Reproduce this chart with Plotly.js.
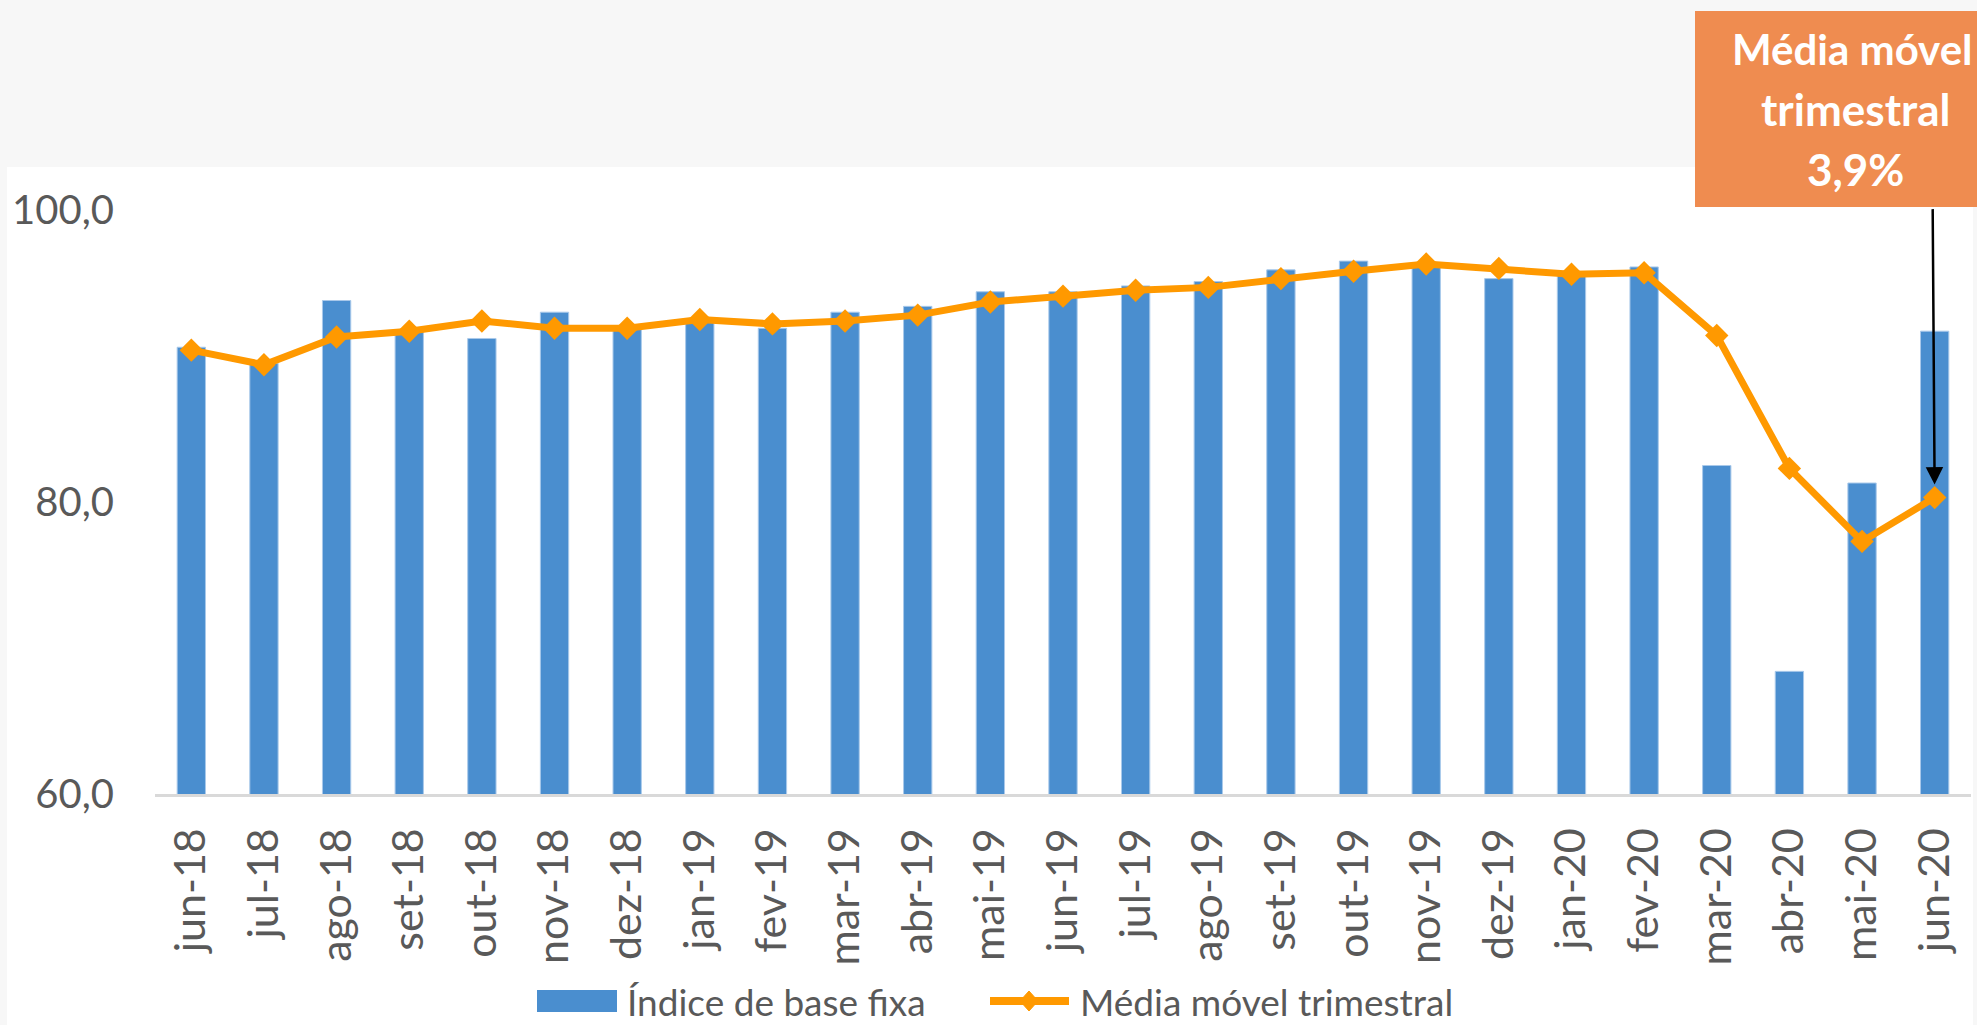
<!DOCTYPE html>
<html>
<head>
<meta charset="utf-8">
<script src="https://cdn.plot.ly/plotly-3.0.1.min.js"></script>
<style>
html,body{margin:0;padding:0;background:#f7f7f7;}
#chart{width:1977px;height:1025px;}
</style>
</head>
<body>
<div id="chart"></div>
<script>
const categories = ['jun-18','jul-18','ago-18','set-18','out-18','nov-18','dez-18','jan-19','fev-19','mar-19','abr-19','mai-19','jun-19','jul-19','ago-19','set-19','out-19','nov-19','dez-19','jan-20','fev-20','mar-20','abr-20','mai-20','jun-20'];
const indiceBaseFixa = [90.6, 89.5, 93.8, 91.7, 91.2, 93.0, 92.0, 92.3, 91.9, 93.0, 93.4, 94.4, 94.4, 94.8, 95.1, 95.9, 96.5, 96.3, 95.3, 95.6, 96.1, 82.5, 68.4, 81.3, 91.7];
const mediaMovel = [90.4, 89.4, 91.3, 91.7, 92.4, 91.9, 91.9, 92.5, 92.2, 92.4, 92.8, 93.7, 94.1, 94.5, 94.7, 95.3, 95.8, 96.3, 96.0, 95.6, 95.7, 91.4, 82.3, 77.3, 80.3];
const seriesNames = ['Índice de base fixa', 'Média móvel trimestral'];
const calloutLines = ['Média móvel', 'trimestral', '3,9%'];

const FONT = 'Lato, Carlito, "Open Sans", sans-serif';
const TXT = '#595959';
const BLUE = '#4A8ECF';
const ORANGE = '#FF9900';

const traces = [
  {
    type: 'bar', name: seriesNames[0], x: categories, y: indiceBaseFixa,
    width: 0.39,
    marker: {color: BLUE, line: {color: '#A9C9EA', width: 1}},
    showlegend: false, hoverinfo: 'x+y'
  },
  {
    type: 'scatter', mode: 'lines+markers', name: seriesNames[1], x: categories, y: mediaMovel,
    line: {color: ORANGE, width: 7},
    marker: {symbol: 'diamond', size: 18, color: ORANGE},
    showlegend: false, hoverinfo: 'x+y'
  }
];

// plot area geometry helpers (paper units)
const L = 155, R = 6, T = 210, B = 231, W = 1977, H = 1025;
const pw = W - L - R, ph = H - T - B;
const px = v => (v - L) / pw;
const py = v => (H - B - v) / ph;

const shapes = [
  // white chart area over grey page
  {type: 'rect', xref: 'paper', yref: 'paper', x0: px(7), x1: px(1973), y0: py(1030), y1: py(167),
   fillcolor: '#ffffff', line: {width: 0}, layer: 'below'},
  // callout box
  {type: 'rect', xref: 'paper', yref: 'paper', x0: px(1695), x1: px(2015), y0: py(207), y1: py(11),
   fillcolor: '#EF8C50', line: {width: 0}, layer: 'above'},
  // legend: bar swatch
  {type: 'rect', xref: 'paper', yref: 'paper', x0: px(537), x1: px(617), y0: py(1012), y1: py(990),
   fillcolor: BLUE, line: {width: 0}},
  // legend: line swatch
  {type: 'line', xref: 'paper', yref: 'paper', x0: px(990), x1: px(1069), y0: py(1001), y1: py(1001),
   line: {color: ORANGE, width: 8}},
  // legend: diamond
  {type: 'path', xref: 'paper', yref: 'paper',
   path: `M ${px(1029)},${py(991)} L ${px(1038)},${py(1001)} L ${px(1029)},${py(1011)} L ${px(1020)},${py(1001)} Z`,
   fillcolor: ORANGE, line: {color: ORANGE, width: 1}}
];

const annotations = [
  {xref: 'paper', yref: 'paper', x: px(1852), y: py(49), text: '<b>' + calloutLines[0] + '</b>', showarrow: false,
   font: {family: FONT, size: 42, color: '#ffffff'}, xanchor: 'center', yanchor: 'middle'},
  {xref: 'paper', yref: 'paper', x: px(1855), y: py(109), text: '<b>' + calloutLines[1] + '</b>', showarrow: false,
   font: {family: FONT, size: 44, color: '#ffffff'}, xanchor: 'center', yanchor: 'middle'},
  {xref: 'paper', yref: 'paper', x: px(1855), y: py(169), text: '<b>' + calloutLines[2] + '</b>', showarrow: false,
   font: {family: FONT, size: 44, color: '#ffffff'}, xanchor: 'center', yanchor: 'middle'},
  // arrow to last point of moving average
  {x: categories[categories.length - 1], y: mediaMovel[mediaMovel.length - 1], xref: 'x', yref: 'y',
   text: '', showarrow: true, arrowhead: 2, arrowsize: 1.4, arrowwidth: 2.5, arrowcolor: '#000000',
   ax: -2, ay: -290, standoff: 13},
  // legend texts
  {xref: 'paper', yref: 'paper', x: px(625), y: py(1001), text: seriesNames[0], showarrow: false,
   xanchor: 'left', yanchor: 'middle', font: {family: FONT, size: 37, color: TXT}},
  {xref: 'paper', yref: 'paper', x: px(1078), y: py(1001), text: seriesNames[1], showarrow: false,
   xanchor: 'left', yanchor: 'middle', font: {family: FONT, size: 37, color: TXT}}
];

const layout = {
  width: W, height: H,
  margin: {l: L, r: R, t: T, b: B, pad: 0},
  paper_bgcolor: '#f7f7f7',
  plot_bgcolor: '#ffffff',
  separators: ',.',
  showlegend: false,
  font: {family: FONT, color: TXT, size: 40},
  xaxis: {
    type: 'category', range: [-0.5, 24.5],
    tickangle: -90, ticks: '', ticklabelstandoff: 14,
    showline: true, linecolor: '#D9D9D9', linewidth: 3,
    showgrid: false, zeroline: false,
    tickfont: {family: FONT, size: 43, color: TXT},
    fixedrange: true
  },
  yaxis: {
    range: [60, 100], dtick: 20, tick0: 60, tickformat: '.1f',
    showgrid: false, zeroline: false, showline: false, ticks: '',
    ticklabelstandoff: 40,
    tickfont: {family: FONT, size: 40, color: TXT},
    fixedrange: true
  },
  shapes: shapes,
  annotations: annotations
};

Plotly.newPlot('chart', traces, layout, {displayModeBar: false, staticPlot: true});
</script>
</body>
</html>
